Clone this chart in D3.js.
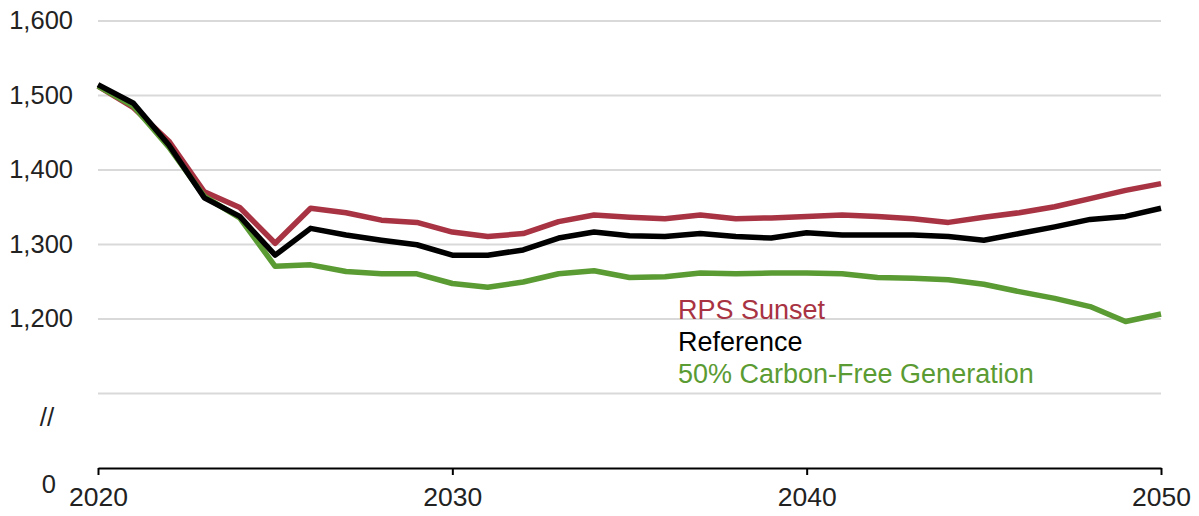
<!DOCTYPE html>
<html>
<head>
<meta charset="utf-8">
<script src="https://cdn.jsdelivr.net/npm/d3@7"></script>
<style>
  body { margin: 0; background: #fff; }
  text { font-family: Arial, "Liberation Sans", sans-serif; }
</style>
</head>
<body>
<svg id="svg"></svg>
<script>

const width = 1199;
const height = 516;

// data
const years = [2020, 2021, 2022, 2023, 2024, 2025, 2026, 2027, 2028, 2029,
               2030, 2031, 2032, 2033, 2034, 2035, 2036, 2037, 2038, 2039,
               2040, 2041, 2042, 2043, 2044, 2045, 2046, 2047, 2048, 2049, 2050];
const rpsSunset = [1512, 1483, 1438, 1370, 1349, 1301, 1348, 1342, 1332, 1329,
                   1316, 1310, 1314, 1330, 1339, 1336, 1334, 1339, 1334, 1335,
                   1337, 1339, 1337, 1334, 1329, 1336, 1342, 1350, 1361, 1372, 1381];
const reference = [1514, 1489, 1433, 1362, 1337, 1285, 1321, 1312, 1305, 1299,
                   1285, 1285, 1292, 1308, 1316, 1311, 1310, 1314, 1310, 1308,
                   1315, 1312, 1312, 1312, 1310, 1305, 1314, 1323, 1333, 1337, 1348];
const carbonFree = [1512, 1485, 1430, 1364, 1335, 1270, 1272, 1263, 1260, 1260,
                    1247, 1242, 1249, 1260, 1264, 1255, 1256, 1261, 1260, 1261,
                    1261, 1260, 1255, 1254, 1252, 1246, 1236, 1227, 1216, 1196, 1206];

const seriesNames = ["RPS Sunset", "Reference", "50% Carbon-Free Generation"];
const seriesColors = ["#a83343", "#000000", "#5b9b33"];
const yTicks = [1100, 1200, 1300, 1400, 1500, 1600];
const xTicks = [2020, 2030, 2040, 2050];

const plotLeft = 98, plotRight = 1161, plotTop = 20.5, gridBottom = 393, axisY = 468;

const svg = d3.select("#svg")
  .attr("width", width)
  .attr("height", height);

svg.append("rect")
  .attr("width", width)
  .attr("height", height)
  .attr("fill", "white");

const x = d3.scaleLinear()
  .domain([2020, 2050])
  .range([plotLeft, plotRight]);

const y = d3.scaleLinear()
  .domain([1100, 1600])
  .range([gridBottom, plotTop]);

// gridlines + y labels
const yAxis = svg.append("g")
  .attr("transform", `translate(${plotLeft},0)`)
  .call(d3.axisLeft(y)
    .tickValues(yTicks)
    .tickSize(-(plotRight - plotLeft))
    .tickPadding(25)
    .tickFormat(d => d === 1100 ? "" : d3.format(",")(d)));

yAxis.select(".domain").remove();
yAxis.selectAll(".tick line")
  .attr("stroke", "#d9d9d9")
  .attr("stroke-width", 2);
yAxis.selectAll(".tick text")
  .attr("fill", "#222")
  .style("font-size", "25.5px");

// axis break and the zero label
svg.append("text")
  .attr("x", 47)
  .attr("y", 417)
  .attr("dy", "0.35em")
  .attr("text-anchor", "middle")
  .attr("fill", "#222")
  .style("font-size", "26px")
  .text("//");

svg.append("text")
  .attr("x", 56)
  .attr("y", axisY + 16)
  .attr("dy", "0.35em")
  .attr("text-anchor", "end")
  .attr("fill", "#222")
  .style("font-size", "25.5px")
  .text("0");

// x axis
const xAxis = svg.append("g")
  .attr("transform", `translate(0,${axisY})`)
  .call(d3.axisBottom(x)
    .tickValues(xTicks)
    .tickSize(7)
    .tickSizeOuter(0)
    .tickPadding(12)
    .tickFormat(d3.format("d")));

xAxis.select(".domain")
  .attr("stroke", "#000")
  .attr("stroke-width", 2);
xAxis.selectAll(".tick line")
  .attr("stroke", "#000")
  .attr("stroke-width", 2);
xAxis.selectAll(".tick text")
  .attr("fill", "#222")
  .style("font-size", "26.5px");

// lines
const line = d3.line()
  .x((d, i) => x(years[i]))
  .y(d => y(d));

const drawOrder = [
  { values: rpsSunset, color: seriesColors[0] },
  { values: carbonFree, color: seriesColors[2] },
  { values: reference, color: seriesColors[1] }
];

svg.append("g")
  .selectAll("path")
  .data(drawOrder)
  .join("path")
  .attr("d", d => line(d.values))
  .attr("fill", "none")
  .attr("stroke", d => d.color)
  .attr("stroke-width", 5.5)
  .attr("stroke-linejoin", "round");

// labels
svg.append("g")
  .selectAll("text")
  .data(seriesNames)
  .join("text")
  .attr("x", 678)
  .attr("y", (d, i) => 319 + i * 32.2)
  .attr("fill", (d, i) => seriesColors[i])
  .style("font-size", "27px")
  .text(d => d);

</script>
</body>
</html>
